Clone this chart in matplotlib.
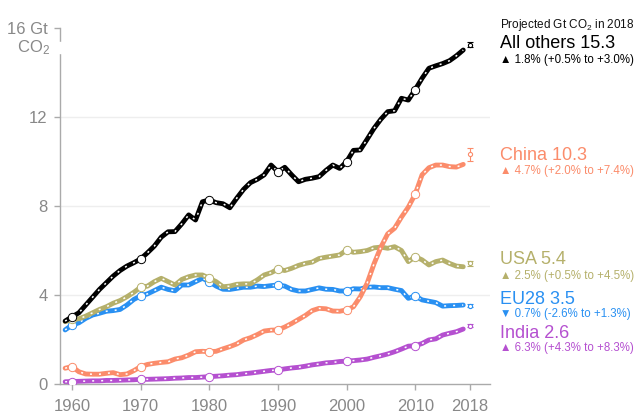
import matplotlib
matplotlib.use("Agg")
import matplotlib.pyplot as plt
from matplotlib.patches import Rectangle

plt.rcParams['font.family'] = ['Liberation Sans', 'DejaVu Sans']
plt.rcParams['mathtext.default'] = 'regular'

years = list(range(1959, 2018))

all_others = [2.83, 3.02, 3.20, 3.55, 3.90, 4.25, 4.55, 4.85, 5.10, 5.30, 5.45,
              5.62, 5.90, 6.20, 6.60, 6.84, 6.85, 7.20, 7.60, 7.37, 8.19,
              8.27, 8.15, 8.10, 7.92, 8.35, 8.75, 9.05, 9.20, 9.40, 9.84,
              9.54, 9.74, 9.40, 9.09, 9.20, 9.25, 9.32, 9.60, 9.84, 9.69,
              9.99, 10.50, 10.52, 11.00, 11.49, 11.90, 12.24, 12.28, 12.84, 12.76,
              13.23, 13.74, 14.19, 14.30, 14.40, 14.53, 14.75, 15.01]
china = [0.71, 0.78, 0.55, 0.45, 0.44, 0.44, 0.48, 0.51, 0.42, 0.45, 0.60,
         0.78, 0.88, 0.93, 0.97, 1.00, 1.12, 1.18, 1.30, 1.45, 1.47,
         1.45, 1.47, 1.58, 1.68, 1.80, 1.98, 2.08, 2.22, 2.38, 2.42,
         2.43, 2.56, 2.72, 2.90, 3.08, 3.30, 3.40, 3.38, 3.28, 3.27,
         3.33, 3.47, 3.92, 4.53, 5.40, 6.15, 6.75, 7.00, 7.50, 7.95,
         8.53, 9.40, 9.72, 9.84, 9.84, 9.77, 9.75, 9.87]
usa = [2.80, 2.91, 2.93, 3.05, 3.20, 3.35, 3.47, 3.63, 3.75, 3.92, 4.12,
       4.35, 4.40, 4.60, 4.75, 4.60, 4.45, 4.70, 4.82, 4.90, 4.90,
       4.75, 4.60, 4.37, 4.40, 4.48, 4.50, 4.50, 4.68, 4.90, 5.00,
       5.16, 5.10, 5.20, 5.33, 5.42, 5.48, 5.64, 5.70, 5.75, 5.80,
       6.02, 5.92, 5.95, 6.00, 6.12, 6.15, 6.10, 6.17, 6.00, 5.50,
       5.72, 5.58, 5.35, 5.50, 5.57, 5.42, 5.30, 5.27]
eu28 = [2.43, 2.65, 2.75, 2.95, 3.10, 3.18, 3.27, 3.30, 3.35, 3.55, 3.80,
        3.96, 4.05, 4.20, 4.35, 4.25, 4.19, 4.45, 4.45, 4.60, 4.75,
        4.60, 4.40, 4.26, 4.25, 4.30, 4.35, 4.35, 4.40, 4.38, 4.42,
        4.45, 4.40, 4.25, 4.18, 4.18, 4.25, 4.32, 4.26, 4.25, 4.18,
        4.18, 4.28, 4.27, 4.35, 4.36, 4.33, 4.33, 4.26, 4.20, 3.85,
        3.96, 3.78, 3.72, 3.66, 3.50, 3.52, 3.53, 3.55]
india = [0.10, 0.11, 0.12, 0.13, 0.14, 0.14, 0.16, 0.16, 0.17, 0.18, 0.19,
         0.21, 0.21, 0.22, 0.23, 0.24, 0.26, 0.27, 0.29, 0.29, 0.31,
         0.33, 0.35, 0.37, 0.40, 0.42, 0.46, 0.49, 0.53, 0.57, 0.61,
         0.63, 0.68, 0.72, 0.75, 0.80, 0.86, 0.90, 0.95, 0.97, 1.01,
         1.03, 1.05, 1.08, 1.12, 1.20, 1.27, 1.35, 1.45, 1.57, 1.70,
         1.72, 1.82, 1.98, 2.03, 2.20, 2.28, 2.35, 2.47]

proj_year = 2018
proj_values = {'All others': 15.25, 'China': 10.32, 'USA': 5.42, 'EU28': 3.52, 'India': 2.62}
proj_err = {'All others': 0.1, 'China': 0.28, 'USA': 0.1, 'EU28': 0.06, 'India': 0.06}

labels = ['All others 15.3', 'China 10.3', 'USA 5.4', 'EU28 3.5', 'India 2.6']
sublabels = ['\u25B2 1.8% (+0.5% to +3.0%)', '\u25B2 4.7% (+2.0% to +7.4%)',
             '\u25B2 2.5% (+0.5% to +4.5%)', '\u25BC 0.7% (-2.6% to +1.3%)',
             '\u25B2 6.3% (+4.3% to +8.3%)']

xticks = [1960, 1970, 1980, 1990, 2000, 2010, 2018]
yticks = [0, 4, 8, 12, 16]
ytick_labels = ['0', '4', '8', '12', '16 Gt']

series = [
    ('India', india, '#b550d0'),
    ('EU28', eu28, '#2990f2'),
    ('USA', usa, '#b5b06b'),
    ('China', china, '#fb8c6b'),
    ('All others', all_others, '#000000'),
]

fig = plt.figure(figsize=(6.39, 4.19), dpi=100)
ax = fig.add_axes([60/639, 1-384/419, 430/639, 356/419])
ax.set_xlim(1958.25, 2020.9)
ax.set_ylim(0, 16)

for g in [4, 8, 12]:
    ax.axhline(g, color='#eeeeee', lw=1, zorder=0)

for i, (name, vals, col) in enumerate(series):
    z = 2 + i * 3
    ax.plot(years, vals, color=col, lw=3.5, solid_capstyle='round',
            solid_joinstyle='round', zorder=z)
    ax.plot(years, vals, color='white', lw=1.1, dashes=(1.3, 4.6), zorder=z + 0.5)
    dx = [y for y in years if y % 10 == 0]
    dy = [v for y, v in zip(years, vals) if y % 10 == 0]
    ax.plot(dx, dy, 'o', ms=6, mfc='white', mec=col, mew=0.7, alpha=1,
            zorder=z + 1)
    ax.errorbar([proj_year], [proj_values[name]], yerr=[proj_err[name]], fmt='o',
                ms=3, mfc='white', mec=col, ecolor=col, elinewidth=0.8,
                capsize=2, capthick=0.8, mew=0.8, zorder=z + 1)

for s in ['top', 'right']:
    ax.spines[s].set_visible(False)
for s in ['left', 'bottom']:
    ax.spines[s].set_color('#aaaaaa')
    ax.spines[s].set_linewidth(1.0)

ax.set_xticks(xticks)
ax.set_xticklabels([str(t) for t in xticks])
ax.set_yticks(yticks)
ax.set_yticklabels(ytick_labels)
ax.tick_params(axis='x', colors='#aaaaaa', labelcolor='#888888', labelsize=12,
               length=4, width=1, pad=7)
ax.tick_params(axis='y', colors='#aaaaaa', labelcolor='#888888', labelsize=12,
               length=4, width=1, pad=5)

fig.text(50/639, 1-48/419, 'CO$_2$', ha='right', va='center', fontsize=12,
         color='#888888')
fig.patches.append(Rectangle((58/639, 1-53/419), 6/639, 11/419, color='white',
                             transform=fig.transFigure, zorder=5))

# right-hand annotations
fig.text(500/639, 1-25/419, 'Projected Gt CO$_2$ in 2018', ha='left', va='center',
         fontsize=8.5, color='#111111')
label_pos = [(43, 60), (156, 171), (260, 276), (299, 314), (333, 348)]
label_cols = ['#000000', '#fb8c6b', '#b5b06b', '#2990f2', '#b550d0']
for lab, sub, (y1, y2), col in zip(labels, sublabels, label_pos, label_cols):
    fig.text(500/639, 1-y1/419, lab, ha='left', va='center', fontsize=13, color=col)
    fig.text(500/639, 1-y2/419, sub, ha='left', va='center', fontsize=8.3, color=col)

fig.savefig('out.png', dpi=100, facecolor='white')
